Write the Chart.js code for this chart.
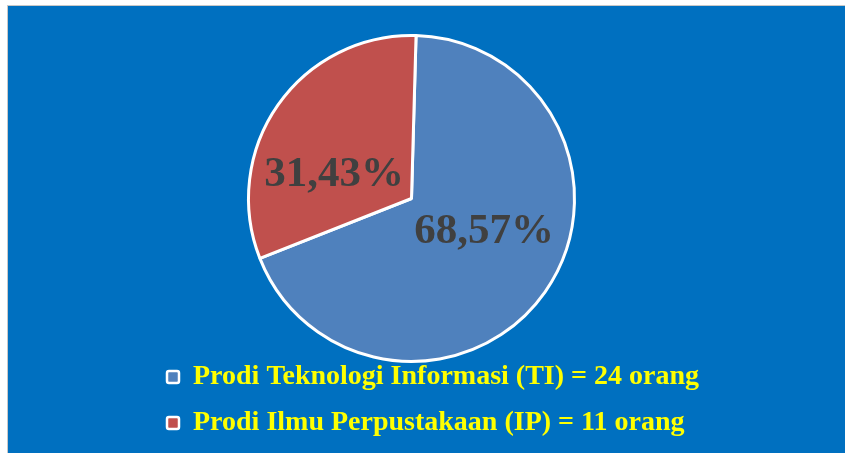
<!DOCTYPE html>
<html>
<head>
<meta charset="utf-8">
<script src="https://cdn.jsdelivr.net/npm/chart.js@4/dist/chart.umd.min.js"></script>
<style>
  html, body { margin: 0; padding: 0; background: #ffffff; }
  #wrap { width: 845px; height: 453px; position: relative; }
</style>
</head>
<body>
<div id="wrap"><canvas id="c" width="845" height="453"></canvas></div>
<script>
const categories = ['Prodi Teknologi Informasi (TI)', 'Prodi Ilmu Perpustakaan (IP)'];
const counts = [24, 11];
const unit = 'orang';
const sliceColors = ['#4F81BD', '#C0504D'];

const total = counts.reduce((a, b) => a + b, 0);
const pctText = v => (v / total * 100).toFixed(2).replace('.', ',') + '%';

// label placement relative to pie center, in units of radius
const labelOffsets = [[0.445, 0.206], [-0.475, -0.144]];

const bgPlugin = {
  id: 'bg',
  beforeDraw(chart) {
    const ctx = chart.ctx;
    ctx.save();
    ctx.fillStyle = '#ffffff';
    ctx.fillRect(0, 0, chart.width, chart.height);
    ctx.fillStyle = '#c8c8c8';
    ctx.fillRect(7, 5, chart.width - 7, 1);
    ctx.fillRect(7, 5, 1, chart.height - 5);
    ctx.fillStyle = '#0070C0';
    ctx.fillRect(8, 6, chart.width - 8, chart.height - 6);
    ctx.restore();
  }
};

// widen the legend box so long labels are not clipped
const legendWidenPlugin = {
  id: 'legendWiden',
  afterLayout(chart) {
    const lg = chart.legend;
    if (!lg) return;
    lg.left = 149;
    lg.right = chart.width;
    lg.width = lg.right - lg.left;
  }
};

const labelPlugin = {
  id: 'sliceLabels',
  afterDatasetsDraw(chart) {
    const ctx = chart.ctx;
    const meta = chart.getDatasetMeta(0);
    ctx.save();
    ctx.font = 'bold 43px "Liberation Serif", "Times New Roman", serif';
    ctx.fillStyle = '#404040';
    ctx.textAlign = 'center';
    ctx.textBaseline = 'middle';
    meta.data.forEach((arc, i) => {
      const r = arc.outerRadius;
      const x = arc.x + labelOffsets[i][0] * r;
      const y = arc.y + labelOffsets[i][1] * r;
      ctx.fillText(pctText(counts[i]), x, y);
    });
    ctx.restore();
  }
};

new Chart(document.getElementById('c'), {
  type: 'pie',
  data: {
    labels: categories.map((c, i) => c + ' = ' + counts[i] + ' ' + unit),
    datasets: [{
      data: counts,
      backgroundColor: sliceColors,
      borderColor: '#ffffff',
      borderWidth: 3,
      clip: false
    }]
  },
  options: {
    responsive: false,
    animation: false,
    rotation: 1.6,
    radius: 163,
    layout: { padding: { top: 52, left: 150, right: 172, bottom: 6 } },
    plugins: {
      tooltip: { enabled: false },
      legend: {
        position: 'bottom',
        align: 'start',
        labels: {
          color: '#FFFF00',
          font: { family: '"Liberation Serif", "Times New Roman", serif', size: 28, weight: 'bold' },
          boxWidth: 12,
          boxHeight: 12,
          padding: 18,
          generateLabels(chart) {
            const ds = chart.data.datasets[0];
            return chart.data.labels.map((t, i) => ({
              text: t,
              fillStyle: ds.backgroundColor[i],
              strokeStyle: '#ffffff',
              lineWidth: 2.5,
              borderRadius: 2,
              fontColor: '#FFFF00',
              hidden: false,
              index: i
            }));
          }
        }
      }
    }
  },
  plugins: [bgPlugin, legendWidenPlugin, labelPlugin]
});
</script>
</body>
</html>
